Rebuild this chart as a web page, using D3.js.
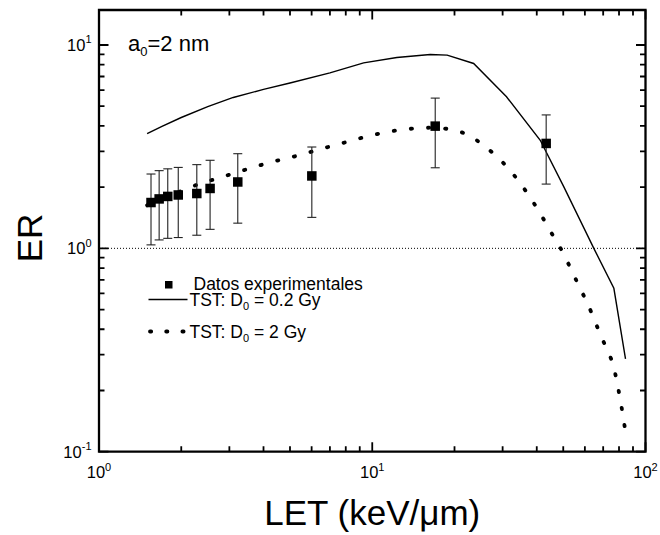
<!DOCTYPE html>
<html>
<head>
<meta charset="utf-8">
<script src="https://cdn.jsdelivr.net/npm/d3@7"></script>
<style>
	body { margin: 0; background: #fff; }
	svg { display: block; font-family: Arial, "Liberation Sans", Helvetica, sans-serif; }
</style>
</head>
<body>
<script>

/* experimental data (Datos experimentales) */
const expLET = [1.55, 1.66, 1.785, 1.95, 2.28, 2.55, 3.22, 6.01, 17.0, 43.3];
const expER = [1.68, 1.75, 1.80, 1.83, 1.86, 1.97, 2.12, 2.27, 3.99, 3.28];
const expHi = [2.32, 2.41, 2.46, 2.50, 2.58, 2.71, 2.92, 3.15, 5.48, 4.53];
const expLo = [1.04, 1.10, 1.12, 1.13, 1.16, 1.24, 1.33, 1.42, 2.49, 2.07];

/* TST: D0 = 0.2 Gy */
const tstLowLET = [1.5, 1.7, 2.0, 2.5, 3.1, 4.0, 5.0, 7.0, 9.3, 12.3, 16.3, 18.8, 23.5, 31.0, 41.2, 50.2, 64.7, 76.6, 84.5];
const tstLowER = [3.67, 3.98, 4.40, 4.98, 5.52, 6.05, 6.50, 7.29, 8.17, 8.68, 8.98, 8.91, 8.11, 5.56, 3.40, 2.01, 1.0, 0.636, 0.286];

/* TST: D0 = 2 Gy */
const tstHighLET = [1.5, 2.01, 2.32, 2.66, 3.52, 4.08, 5.45, 6.27, 8.3, 9.56, 12.8, 14.8, 16.5, 19.6, 22.6, 25.9, 30.0, 33.9, 37.5, 41.0, 44.6, 48.5, 55.9, 63.8, 67.7, 71.9, 76.1, 80.7, 84.5];
const tstHighER = [1.63, 1.92, 2.07, 2.19, 2.46, 2.61, 2.88, 3.04, 3.37, 3.55, 3.83, 3.90, 3.92, 3.83, 3.59, 3.16, 2.65, 2.19, 1.81, 1.50, 1.23, 1.02, 0.693, 0.474, 0.389, 0.323, 0.267, 0.183, 0.125];

/* ticks */
const xMajor = [1, 10, 100];
const xMajorExp = ['0', '1', '2'];
const yMajor = [0.1, 1, 10];
const yMajorExp = ['-1', '0', '1'];
const xMinor = [2, 3, 4, 5, 6, 7, 8, 9, 20, 30, 40, 50, 60, 70, 80, 90];
const yMinor = [0.2, 0.3, 0.4, 0.5, 0.6, 0.7, 0.8, 0.9, 2, 3, 4, 5, 6, 7, 8, 9];

const W = 660, H = 535;
const L = 99, T = 10, R = 645.5, B = 451.7;

const svg = d3.select('body').append('svg')
	.attr('width', W)
	.attr('height', H);

const x = d3.scaleLog().domain([1, 100]).range([L, R]);
const y = d3.scaleLog().domain([0.1, 14.86]).range([B, T]);

/* reference line at ER = 1 */
svg.append('line')
	.attr('x1', L).attr('x2', R)
	.attr('y1', y(1)).attr('y2', y(1))
	.attr('stroke', '#000')
	.attr('stroke-width', 1)
	.attr('stroke-dasharray', '1 2');

/* ticks, all pointing inward, on all four sides - one path */
let tickPath = '';
function addXTicks(vals, len) {
	vals.forEach(v => {
		const px = x(v);
		tickPath += `M${px},${B}V${B - len}M${px},${T}V${T + len}`;
	});
}
function addYTicks(vals, len) {
	vals.forEach(v => {
		const py = y(v);
		tickPath += `M${L},${py}H${L + len}M${R},${py}H${R - len}`;
	});
}
addXTicks(xMajor, 9.5);
addXTicks(xMinor, 5.5);
addYTicks(yMajor, 9.5);
addYTicks(yMinor, 5.5);

svg.append('path')
	.attr('d', tickPath)
	.attr('fill', 'none')
	.style('stroke', '#000')
	.style('stroke-width', '1.8px');

/* frame */
svg.append('path')
	.attr('d', `M${L},${T}H${R}V${B}H${L}Z`)
	.attr('fill', 'none')
	.style('stroke', '#000')
	.style('stroke-width', '2.3px');

/* tick labels 10^n */
function powLabel(sel, exp) {
	sel.append('tspan').text('10');
	sel.append('tspan')
		.attr('font-size', 11)
		.attr('dy', -7.5)
		.text(exp);
}
xMajor.forEach((v, i) => {
	svg.append('text')
		.attr('x', x(v))
		.attr('y', 478)
		.attr('text-anchor', 'middle')
		.attr('font-size', 16.5)
		.call(powLabel, xMajorExp[i]);
});
yMajor.forEach((v, i) => {
	svg.append('text')
		.attr('x', 91.5)
		.attr('y', y(v) + 6)
		.attr('text-anchor', 'end')
		.attr('font-size', 16.5)
		.call(powLabel, yMajorExp[i]);
});

/* axis titles */
svg.append('text')
	.attr('x', (L + R) / 2)
	.attr('y', 525)
	.attr('text-anchor', 'middle')
	.attr('font-size', 35)
	.text('LET (keV/\u03bcm)');
svg.append('text')
	.attr('transform', 'translate(41.5,238) rotate(-90)')
	.attr('text-anchor', 'middle')
	.attr('font-size', 35)
	.text('ER');

/* curves */
const line = d3.line()
	.x(d => x(d[0]))
	.y(d => y(d[1]));

svg.append('path')
	.datum(d3.zip(tstLowLET, tstLowER))
	.attr('d', line.curve(d3.curveLinear))
	.attr('fill', 'none')
	.attr('stroke', '#000')
	.attr('stroke-width', 1.4);

svg.append('path')
	.datum(d3.zip(tstHighLET, tstHighER))
	.attr('d', line.curve(d3.curveMonotoneX))
	.attr('fill', 'none')
	.attr('stroke', '#000')
	.attr('stroke-width', 3.8)
	.attr('stroke-linecap', 'round')
	.attr('stroke-dasharray', '1.2 16');

/* experimental points with error bars */
const pts = svg.append('g')
	.selectAll('g')
	.data(d3.range(expLET.length))
	.enter().append('g');

pts.append('line')
	.attr('x1', i => x(expLET[i])).attr('x2', i => x(expLET[i]))
	.attr('y1', i => y(expHi[i])).attr('y2', i => y(expLo[i]))
	.attr('stroke', '#222').attr('stroke-width', 1.1);
[expHi, expLo].forEach(arr => {
	pts.append('line')
		.attr('x1', i => x(expLET[i]) - 4.5).attr('x2', i => x(expLET[i]) + 4.5)
		.attr('y1', i => y(arr[i])).attr('y2', i => y(arr[i]))
		.attr('stroke', '#222').attr('stroke-width', 1.1);
});
pts.append('rect')
	.attr('x', i => x(expLET[i]) - 4.75)
	.attr('y', i => y(expER[i]) - 4.75)
	.attr('width', 9.5).attr('height', 9.5)
	.attr('fill', '#000');

/* inset label a0 = 2 nm */
const a0 = svg.append('text')
	.attr('x', 128).attr('y', 51)
	.attr('font-size', 22);
a0.append('tspan').text('a');
a0.append('tspan').attr('font-size', 13).attr('dy', 5).text('0');
a0.append('tspan').attr('dy', -5).text('=2 nm');

/* legend */
const legend = svg.append('g').attr('font-size', 17.5);

legend.append('rect')
	.attr('x', 165).attr('y', 281)
	.attr('width', 7.5).attr('height', 7.5)
	.attr('fill', '#000');
legend.append('text')
	.attr('x', 193.5).attr('y', 289.5)
	.text('Datos experimentales');

legend.append('line')
	.attr('x1', 148.5).attr('x2', 187.5)
	.attr('y1', 299.5).attr('y2', 299.5)
	.attr('stroke', '#000').attr('stroke-width', 1.4);

legend.append('line')
	.attr('x1', 150).attr('x2', 184)
	.attr('y1', 331.5).attr('y2', 331.5)
	.attr('stroke', '#000').attr('stroke-width', 3.8)
	.attr('stroke-linecap', 'round')
	.attr('stroke-dasharray', '1.2 15');

function tstLabel(yPos, dose) {
	const t = legend.append('text').attr('x', 189.5).attr('y', yPos);
	t.append('tspan').text('TST: D');
	t.append('tspan').attr('font-size', 11).attr('dy', 4).text('0');
	t.append('tspan').attr('dy', -4).text(' = ' + dose + ' Gy');
}
tstLabel(306, '0.2');
tstLabel(337.5, '2');

</script>
</body>
</html>
